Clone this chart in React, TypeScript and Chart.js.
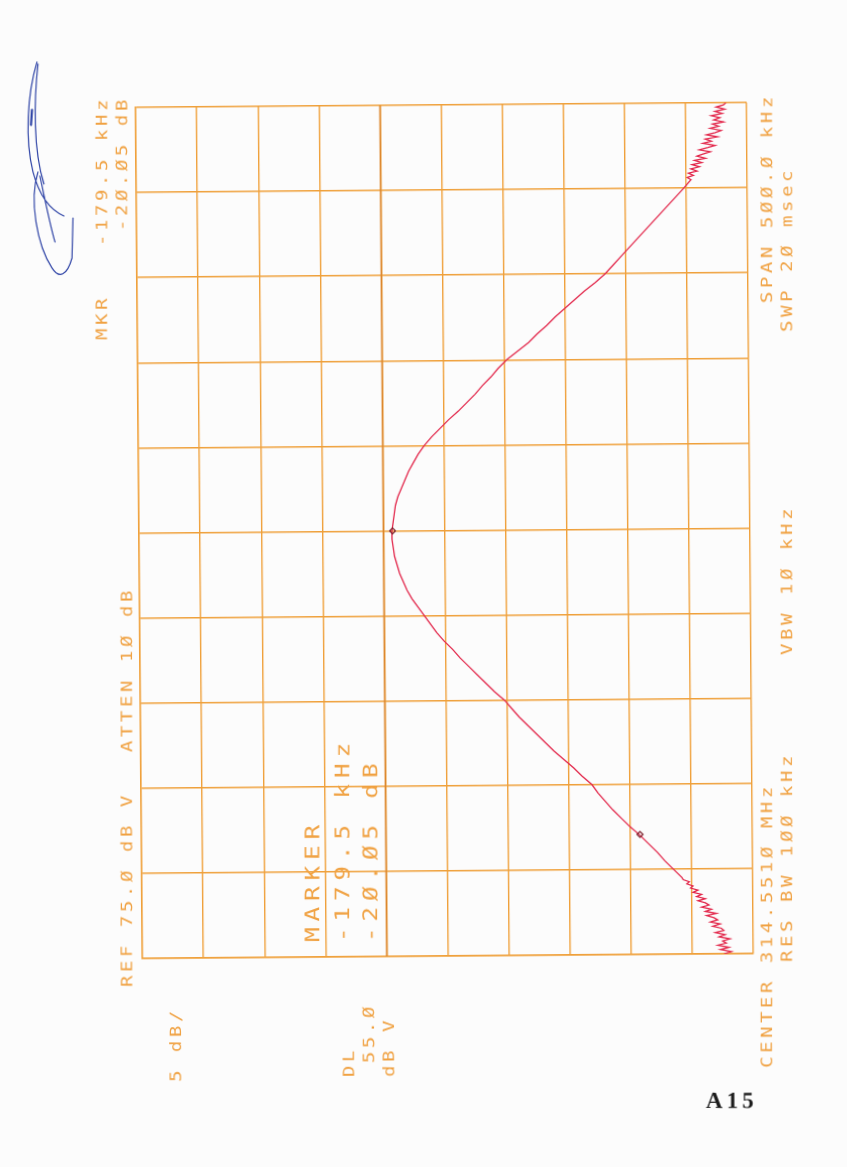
import React, { useEffect, useRef } from "react";
import { Chart, registerables } from "chart.js";

Chart.register(...registerables);

// ---- Data ----
// frequency offset from centre (kHz), level (dB V)
const freqKHz = [
  -250, -248.75, -247.5, -246.25, -245, -243.75, -242.5, -241.25, -240, -238.75, -237.5, -236.25, -235, -233.75, -232.5, -231.25,
  -230, -228.75, -227.5, -226.25, -225, -223.75, -222.5, -221.25, -220, -218.75, -217.5, -216.25, -215, -213.75, -212.5, -211.25,
  -210, -208.75, -207.5, -206.25, -205,
  -200, -195, -190, -185, -180, -175, -170, -165, -160, -155, -150, -145, -140, -135, -130, -125, -120, -115, -110, -105,
  -100, -95, -90, -85, -80, -75, -70, -65, -60, -55, -50, -45, -40, -35, -30, -25, -20, -15, -10, -5,
  0, 5, 10, 15, 20, 25, 30, 35, 40, 45, 50, 55, 60, 65, 70, 75, 80, 85, 90, 95,
  100, 105, 110, 115, 120, 125, 130, 135, 140, 145, 150, 155, 160, 165, 170, 175, 180, 185, 190, 195, 200,
  205, 206.25, 207.5, 208.75, 210, 211.25, 212.5, 213.75, 215, 216.25, 217.5, 218.75, 220, 221.25, 222.5, 223.75,
  225, 226.25, 227.5, 228.75, 230, 231.25, 232.5, 233.75, 235, 236.25, 237.5, 238.75, 240, 241.25, 242.5, 243.75,
  245, 246.25, 247.5, 248.75, 250,
];
const levelDbV = [
  27.4, 26.8, 27.7, 27.0, 27.9, 27.2, 27.5, 26.9, 27.8, 27.3, 28.1, 27.4, 27.6, 28.3, 27.7, 28.5,
  27.9, 28.2, 28.8, 28.0, 28.9, 28.4, 29.2, 28.6, 28.9, 29.5, 28.9, 29.6, 29.2, 29.9, 29.5, 30.1,
  29.9, 30.4, 30.2, 30.7, 30.8,
  31.5, 32.2, 32.8, 33.5, 34.2, 35.0, 35.7, 36.4, 37.0, 37.6, 38.1, 38.9, 39.6, 40.4, 41.2, 41.9, 42.6, 43.3, 44.0, 44.6,
  45.2, 46.0, 46.7, 47.4, 48.1, 48.8, 49.4, 50.1, 50.7, 51.2, 51.7, 52.2, 52.7, 53.1, 53.4, 53.7, 53.9, 54.1, 54.2, 54.3,
  54.3, 54.2, 54.1, 54.0, 53.8, 53.5, 53.2, 52.9, 52.5, 52.1, 51.6, 51.0, 50.3, 49.6, 48.8, 48.1, 47.4, 46.8, 46.1, 45.5,
  44.8, 43.9, 43.0, 42.3, 41.5, 40.8, 40.0, 39.2, 38.4, 37.5, 36.7, 36.05, 35.4, 34.75, 34.1, 33.45, 32.8, 32.15, 31.5, 30.85, 30.2,
  29.6, 29.9, 29.4, 29.8, 29.1, 29.6, 28.9, 29.5, 28.7, 29.3, 28.4, 29.1, 28.6, 28.0, 28.9, 28.2,
  27.6, 28.6, 27.9, 28.4, 27.4, 28.3, 27.6, 27.1, 28.0, 27.3, 27.8, 26.9, 27.7, 27.2, 27.9, 27.0,
  27.6, 26.8, 27.5, 26.9, 26.7,
];
const markerFreqKHz = [0, -179.5];
const markerLevelDbV = [54.25, 34.2];
const displayLineDbV = 55;
const refLevelDbV = 75;
const dbPerDiv = 5;
const halfSpanKHz = 250;
const freqStepKHz = 50;

// ---- Texts ----
const annotationTexts = [
  "MKR", "-179.5 kHz", "-2Ø.Ø5 dB",
  "REF 75.Ø dB V", "ATTEN 1Ø dB", "5 dB/",
  "DL", "55.Ø", "dB V",
  "MARKER", "-179.5 kHz", "-2Ø.Ø5 dB",
  "CENTER 314.551Ø MHz", "RES BW 1ØØ kHz", "VBW 1Ø kHz",
  "SPAN 5ØØ.Ø kHz", "SWP 2Ø msec",
];

// ---- Style / layout ----
const GRID = "#efa03a";
const TEXT = "#f0a243";
const TRACE = "#e2264a";
const BG = "#fcfcfc";
const ROT_DEG = -0.46;
const CX = 444.6;
const CY = 530.5;
const GLYPH_STRETCH = 1.22;

// [index into annotationTexts, column x, start y (bottom), large?]
const textLayout: [number, number, number, boolean][] = [
  [0, 103, 340, false],
  [1, 103, 246, false],
  [2, 123, 231, false],
  [3, 128, 987, false],
  [4, 128, 752, false],
  [5, 177, 1082, false],
  [6, 350, 1077, false],
  [7, 370, 1063, false],
  [8, 390, 1077, false],
  [9, 314, 942, true],
  [10, 344, 942, true],
  [11, 372, 942, true],
  [12, 768, 1068, false],
  [13, 788, 962, false],
  [14, 788, 655, false],
  [15, 768, 303, false],
  [16, 788, 332, false],
];

const annotPlugin = {
  id: "annot",
  afterDraw(chart: any) {
    const ctx: CanvasRenderingContext2D = chart.ctx;
    ctx.save();
    // counter-rotate so that texts land at their measured page positions
    ctx.translate(CX, CY);
    ctx.rotate((-ROT_DEG * Math.PI) / 180);
    ctx.translate(-CX, -CY);

    ctx.fillStyle = TEXT;
    for (const [i, x, y, large] of textLayout) {
      const size = large ? 20 : 15.5;
      const pitch = (large ? 20.5 : 15) / GLYPH_STRETCH;
      ctx.save();
      ctx.translate(x, y);
      ctx.rotate(-Math.PI / 2);
      ctx.scale(GLYPH_STRETCH, 1);
      ctx.font = `${size}px "DejaVu Sans Mono"`;
      (ctx as any).letterSpacing = `${(pitch - size * 0.602).toFixed(2)}px`;
      ctx.textAlign = "left";
      ctx.textBaseline = "middle";
      ctx.fillText(annotationTexts[i], 0, 0);
      ctx.restore();
    }

    // page number
    ctx.fillStyle = "#1c1c1c";
    ctx.font = 'bold 23px "Liberation Serif"';
    (ctx as any).letterSpacing = "4px";
    ctx.textAlign = "left";
    ctx.textBaseline = "alphabetic";
    ctx.fillText("A15", 706, 1108);

    // signature
    (ctx as any).letterSpacing = "0px";
    ctx.strokeStyle = "#2f44a6";
    ctx.lineWidth = 1.2;
    ctx.lineCap = "round";
    ctx.beginPath();
    ctx.moveTo(37, 62);
    ctx.bezierCurveTo(27, 95, 25, 140, 33, 172);
    ctx.bezierCurveTo(40, 198, 52, 211, 64, 216);
    ctx.moveTo(38, 64);
    ctx.bezierCurveTo(34, 100, 33, 150, 44, 184);
    ctx.moveTo(38, 172);
    ctx.bezierCurveTo(29, 200, 37, 245, 52, 268);
    ctx.bezierCurveTo(59, 279, 67, 276, 72, 258);
    ctx.lineTo(73, 218);
    ctx.moveTo(40, 176);
    ctx.bezierCurveTo(45, 200, 50, 225, 55, 242);
    ctx.stroke();
    ctx.lineWidth = 2.2;
    ctx.beginPath();
    ctx.moveTo(32, 110);
    ctx.lineTo(31, 125);
    ctx.stroke();

    ctx.restore();
  },
};

export default function App() {
  const ref = useRef<HTMLCanvasElement>(null);

  useEffect(() => {
    const canvas = ref.current!;
    const chart = new Chart(canvas, {
      type: "scatter",
      data: {
        datasets: [
          {
            label: "markers",
            data: markerFreqKHz.map((f, i) => ({ x: markerLevelDbV[i], y: f })),
            showLine: false,
            pointStyle: "rectRot",
            pointRadius: 3,
            borderColor: "#7a1f2a",
            backgroundColor: "rgba(0,0,0,0)",
            borderWidth: 1.2,
            order: 0,
          },
          {
            label: "trace",
            data: freqKHz.map((f, i) => ({ x: levelDbV[i], y: f })),
            showLine: true,
            borderColor: TRACE,
            borderWidth: 1.3,
            pointRadius: 0,
            tension: 0,
            order: 1,
          },
          {
            label: "DL",
            data: [
              { x: displayLineDbV, y: -halfSpanKHz },
              { x: displayLineDbV, y: halfSpanKHz },
            ],
            showLine: true,
            borderColor: "#dc862c",
            borderWidth: 1.6,
            pointRadius: 0,
            order: 2,
          },
        ],
      } as any,
      options: {
        responsive: false,
        devicePixelRatio: 1,
        animation: false,
        events: [],
        layout: { padding: { left: 139, top: 105, right: 97, bottom: 211 } },
        plugins: { legend: { display: false }, tooltip: { enabled: false } },
        scales: {
          x: {
            type: "linear",
            min: refLevelDbV - 10 * dbPerDiv,
            max: refLevelDbV,
            reverse: true,
            ticks: { display: false, stepSize: dbPerDiv },
            grid: { color: GRID, lineWidth: 1.4, drawTicks: false },
            border: { display: true, color: GRID, width: 1.4 },
          },
          y: {
            type: "linear",
            min: -halfSpanKHz,
            max: halfSpanKHz,
            ticks: { display: false, stepSize: freqStepKHz },
            grid: { color: GRID, lineWidth: 1.4, drawTicks: false },
            border: { display: true, color: GRID, width: 1.4 },
          },
        },
      } as any,
      plugins: [annotPlugin],
    });
    return () => chart.destroy();
  }, []);

  return (
    <div style={{ position: "fixed", left: 0, top: 0, width: 847, height: 1167, background: BG, overflow: "hidden" }}>
      <canvas
        ref={ref}
        width={847}
        height={1167}
        style={{
          display: "block",
          width: 847,
          height: 1167,
          transform: `rotate(${ROT_DEG}deg)`,
          transformOrigin: `${CX}px ${CY}px`,
        }}
      />
    </div>
  );
}
